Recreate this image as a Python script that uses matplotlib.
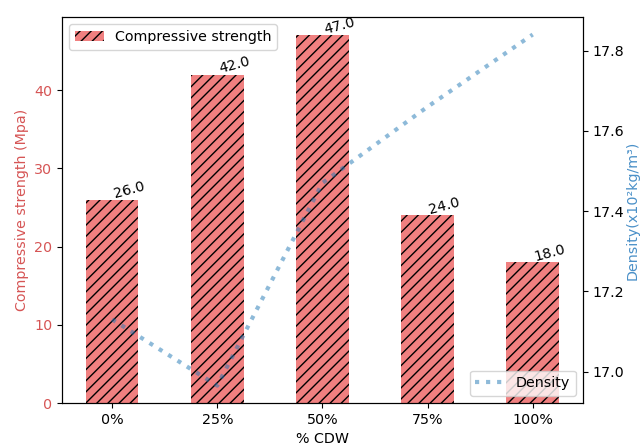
import numpy as np
import matplotlib.pyplot as plt

cdw = ['0%', '25%', '50%', '75%', '100%']
strength = [26.0, 42.0, 47.0, 24.0, 18.0]
density = [17.13, 16.965, 17.47, 17.66, 17.84]


def main():
    plt.rcParams['font.size'] = 10.3

    fig = plt.figure(figsize=(6.41, 4.47), dpi=100)
    fig.subplots_adjust(left=0.097, right=0.909, bottom=0.098, top=0.962)
    ax1 = fig.add_subplot(111)

    x = np.arange(len(cdw))
    bars = ax1.bar(x, strength, width=0.5, color='lightcoral', hatch='///',
                   edgecolor='black', linewidth=0, label='Compressive strength')
    for b, v in zip(bars, strength):
        ax1.text(b.get_x() + b.get_width() / 2, v + 0.2, f'{v:.1f}', rotation=15,
                 ha='left', va='baseline')

    ax1.set_xticks(x)
    ax1.set_xticklabels(cdw)
    ax1.set_xlabel('% CDW')
    ax1.set_ylabel('Compressive strength (Mpa)', color='#d65555')
    ax1.tick_params(axis='y', labelcolor='#d65555')
    ax1.legend(loc='upper left')

    ax2 = ax1.twinx()
    ax2.plot(x, density, linestyle=':', linewidth=3, color='tab:blue',
             alpha=0.5, label='Density')
    ax2.set_ylabel('Density(x10²kg/m³)', color='#4a90c8', labelpad=1)
    ax2.legend(loc='lower right')

    fig.savefig('out.png', dpi=100)


if __name__ == "__main__":
    main()
